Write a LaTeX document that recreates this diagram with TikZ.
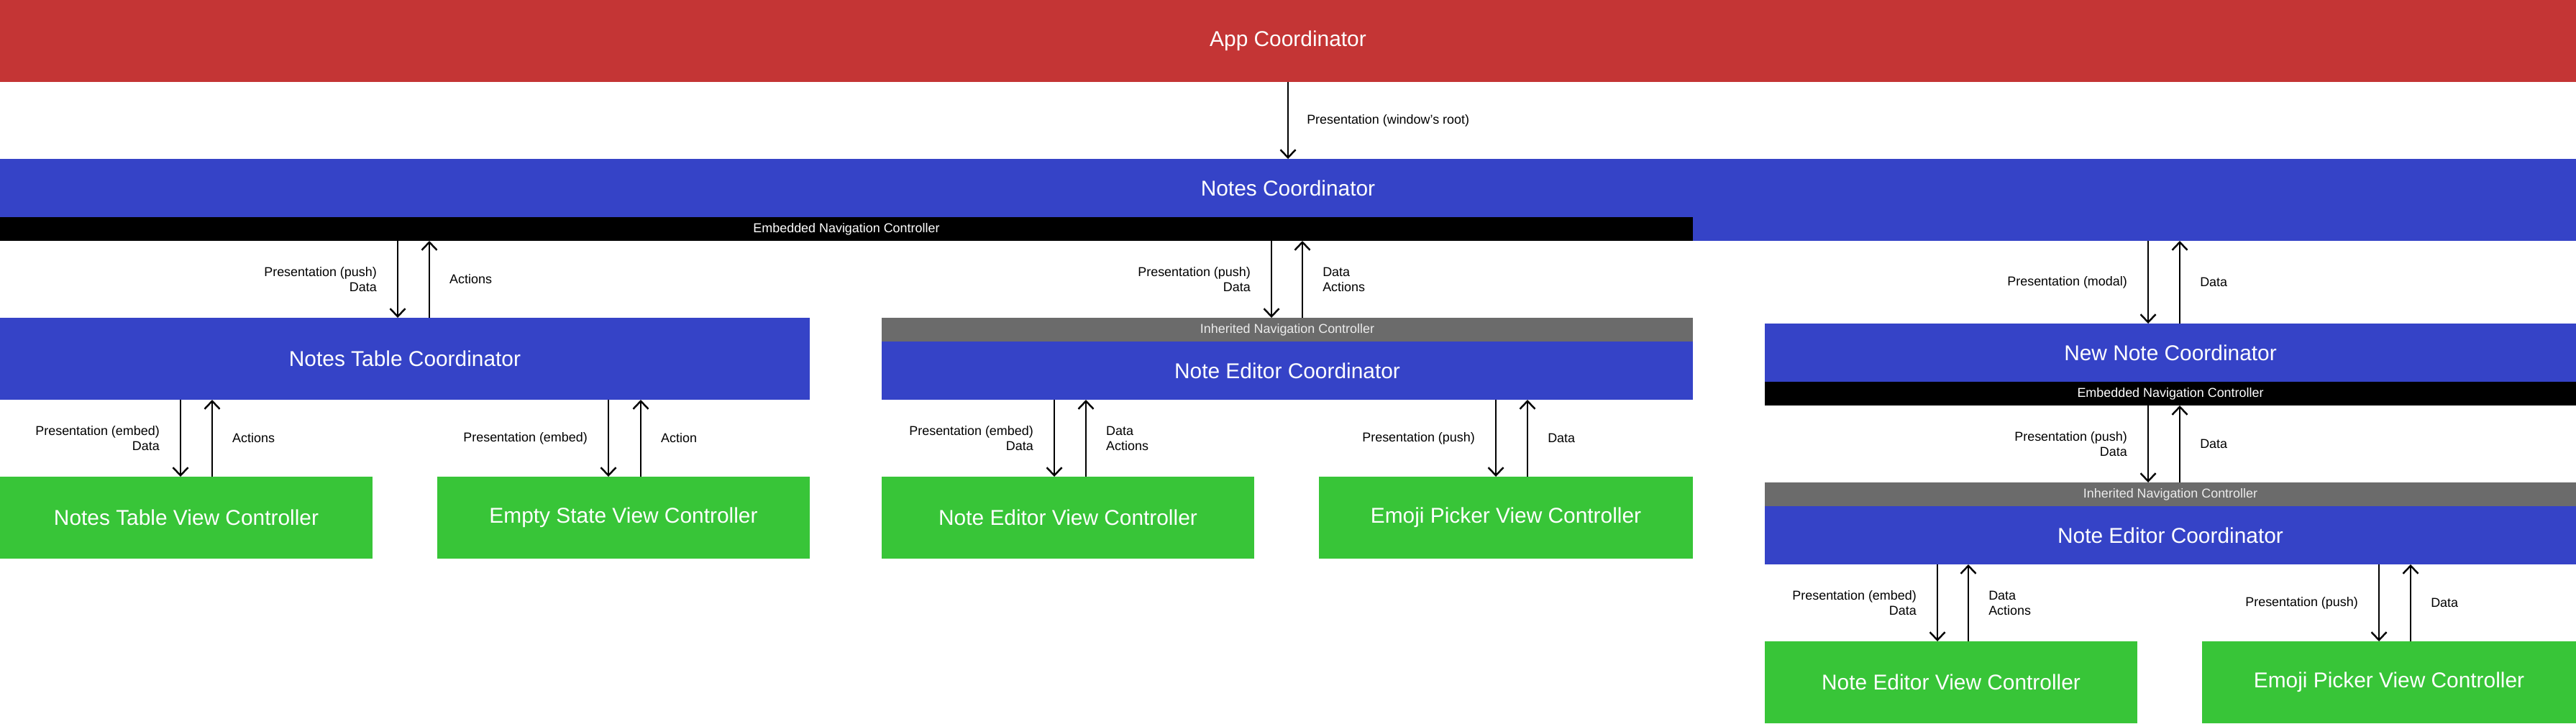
\documentclass[tikz,border=0pt]{standalone}
\usepackage{fontspec}
\setmainfont{Liberation Sans}
\usetikzlibrary{arrows.meta}
\definecolor{appred}{HTML}{C43535}
\definecolor{coordblue}{HTML}{3543C7}
\definecolor{vcgreen}{HTML}{38C538}
\definecolor{navgray}{HTML}{6B6B6B}
\tikzset{
	box/.style={anchor=north west, inner sep=0, outer sep=0, text=white, font=\fontsize{8.5}{10}\selectfont},
	coord/.style={box, fill=coordblue, minimum height=0.81cm},
	vc/.style={box, fill=vcgreen, minimum height=1.14cm},
	navbar/.style={box, minimum height=0.33cm, font=\fontsize{5.1}{6}\selectfont},
	flow/.style={-{Straight Barb[length=0.11cm, width=0.21cm]}, line width=0.7pt},
	lbl/.style={inner sep=0, font=\fontsize{5.1}{6}\selectfont}
}

\begin{document}
\begin{tikzpicture}
		%%%%% START %%%%%
		\useasboundingbox (0, 0) rectangle (35.82, -10.06);
		
		\node[box, fill=appred, minimum width=35.82cm, minimum height=1.14cm] (app) at (0, 0) {App Coordinator};
		
		\node[coord, minimum width=35.82cm] (notes) at (0, -2.21) {Notes Coordinator};
		\node[navbar, fill=black, minimum width=23.54cm] (navA) at (0, -3.02) {Embedded Navigation Controller};
		\node[navbar, fill=coordblue, minimum width=12.28cm] (notesext) at (23.54, -3.02) {};
		
		\node[coord, minimum width=11.26cm, minimum height=1.14cm] (table) at (0, -4.42) {Notes Table Coordinator};
		\node[vc, minimum width=5.18cm] (tableVC) at (0, -6.63) {Notes Table View Controller};
		\node[vc, minimum width=5.18cm] (emptyVC) at (6.08, -6.63) {Empty State View Controller};
		
		\node[navbar, fill=navgray, text=gray!15, minimum width=11.28cm] (inheritA) at (12.26, -4.42) {Inherited Navigation Controller};
		\node[coord, minimum width=11.28cm] (editorA) at (12.26, -4.75) {Note Editor Coordinator};
		\node[vc, minimum width=5.18cm] (editorVC) at (12.26, -6.63) {Note Editor View Controller};
		\node[vc, minimum width=5.20cm] (emojiVC) at (18.34, -6.63) {Emoji Picker View Controller};
		
		\node[coord, minimum width=11.28cm] (newnote) at (24.54, -4.50) {New Note Coordinator};
		\node[navbar, fill=black, minimum width=11.28cm] (navB) at (24.54, -5.31) {Embedded Navigation Controller};
		\node[navbar, fill=navgray, text=gray!15, minimum width=11.28cm] (inheritB) at (24.54, -6.71) {Inherited Navigation Controller};
		\node[coord, minimum width=11.28cm] (editorB) at (24.54, -7.04) {Note Editor Coordinator};
		\node[vc, minimum width=5.18cm] (editorVCB) at (24.54, -8.92) {Note Editor View Controller};
		\node[vc, minimum width=5.20cm] (emojiVCB) at (30.62, -8.92) {Emoji Picker View Controller};
		
		% root
		\draw[flow] (17.91,0 |- app.south) -- (17.91,0 |- notes.north) node[midway, right=0.25cm, lbl] {Presentation (window’s root)};
		
		% notes coordinator
		\draw[flow] (5.53,0 |- navA.south) -- (5.53,0 |- table.north) node[midway, left=0.28cm, lbl, align=right] {Presentation (push)\\Data};
		\draw[flow] (5.97,0 |- table.north) -- (5.97,0 |- navA.south) node[midway, right=0.27cm, lbl] {Actions};
		\draw[flow] (17.68,0 |- navA.south) -- (17.68,0 |- inheritA.north) node[midway, left=0.28cm, lbl, align=right] {Presentation (push)\\Data};
		\draw[flow] (18.11,0 |- inheritA.north) -- (18.11,0 |- navA.south) node[midway, right=0.27cm, lbl, align=left] {Data\\Actions};
		\draw[flow] (29.87,0 |- notesext.south) -- (29.87,0 |- newnote.north) node[midway, left=0.28cm, lbl] {Presentation (modal)};
		\draw[flow] (30.31,0 |- newnote.north) -- (30.31,0 |- notesext.south) node[midway, right=0.27cm, lbl] {Data};
		
		% notes table coordinator
		\draw[flow] (2.51,0 |- table.south) -- (2.51,0 |- tableVC.north) node[midway, left=0.28cm, lbl, align=right] {Presentation (embed)\\Data};
		\draw[flow] (2.95,0 |- tableVC.north) -- (2.95,0 |- table.south) node[midway, right=0.27cm, lbl] {Actions};
		\draw[flow] (8.46,0 |- table.south) -- (8.46,0 |- emptyVC.north) node[midway, left=0.28cm, lbl] {Presentation (embed)};
		\draw[flow] (8.91,0 |- emptyVC.north) -- (8.91,0 |- table.south) node[midway, right=0.27cm, lbl] {Action};
		
		% note editor coordinator
		\draw[flow] (14.66,0 |- editorA.south) -- (14.66,0 |- editorVC.north) node[midway, left=0.28cm, lbl, align=right] {Presentation (embed)\\Data};
		\draw[flow] (15.10,0 |- editorVC.north) -- (15.10,0 |- editorA.south) node[midway, right=0.27cm, lbl, align=left] {Data\\Actions};
		\draw[flow] (20.80,0 |- editorA.south) -- (20.80,0 |- emojiVC.north) node[midway, left=0.28cm, lbl] {Presentation (push)};
		\draw[flow] (21.24,0 |- emojiVC.north) -- (21.24,0 |- editorA.south) node[midway, right=0.27cm, lbl] {Data};
		
		% new note coordinator
		\draw[flow] (29.87,0 |- navB.south) -- (29.87,0 |- inheritB.north) node[midway, left=0.28cm, lbl, align=right] {Presentation (push)\\Data};
		\draw[flow] (30.31,0 |- inheritB.north) -- (30.31,0 |- navB.south) node[midway, right=0.27cm, lbl] {Data};
		
		\draw[flow] (26.94,0 |- editorB.south) -- (26.94,0 |- editorVCB.north) node[midway, left=0.28cm, lbl, align=right] {Presentation (embed)\\Data};
		\draw[flow] (27.37,0 |- editorVCB.north) -- (27.37,0 |- editorB.south) node[midway, right=0.27cm, lbl, align=left] {Data\\Actions};
		\draw[flow] (33.08,0 |- editorB.south) -- (33.08,0 |- emojiVCB.north) node[midway, left=0.28cm, lbl] {Presentation (push)};
		\draw[flow] (33.52,0 |- emojiVCB.north) -- (33.52,0 |- editorB.south) node[midway, right=0.27cm, lbl] {Data};
		%%%%% END %%%%%
\end{tikzpicture}
\end{document}
